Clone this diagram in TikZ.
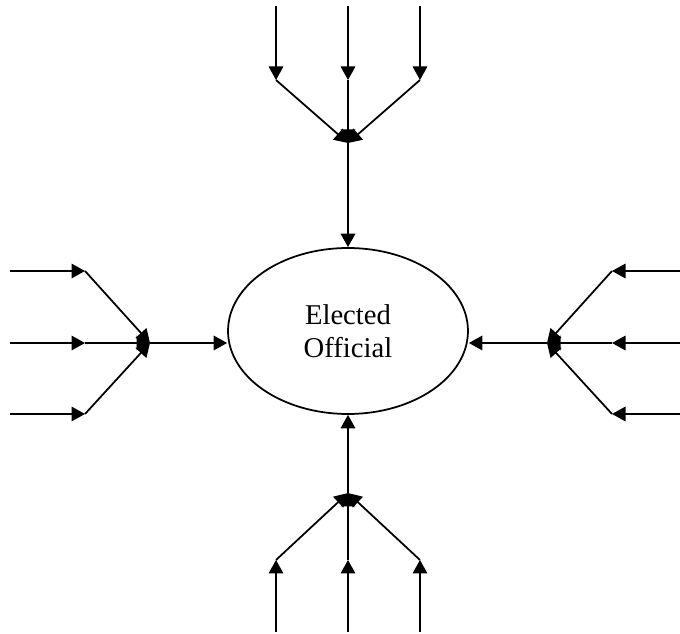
\documentclass[tikz,border=0pt]{standalone}
\usepackage{fontspec}
\setmainfont{Liberation Serif}
\usetikzlibrary{arrows.meta,shapes.geometric}

\begin{document}
\begin{tikzpicture}[x=0.02cm, y=-0.02cm, line width=1pt,
    feed/.style={-{Triangle[length=0.27cm,width=0.29cm]}},
    official/.style={ellipse, draw, inner sep=0pt, minimum width=4.8cm, minimum height=3.32cm,
      align=center, font=\fontsize{16.3}{18.5}\selectfont}]
  \useasboundingbox (0,0) rectangle (680,634);
  \node[official] (off) at (348,331) {Elected\\Official};
  \coordinate (topjoin) at (348,143);
  \coordinate (botjoin) at (348,493);
  \coordinate (leftjoin) at (150,343);
  \coordinate (rightjoin) at (547,343);
  \foreach \x [count=\i] in {276,348,420} {
    \coordinate (top\i) at (\x,6);
    \coordinate (topend\i) at (\x,80);
    \coordinate (bot\i) at (\x,632);
    \coordinate (botend\i) at (\x,560);
    \draw[feed] (top\i) -- (topend\i);
    \draw[feed] (topend\i) -- (topjoin);
    \draw[feed] (bot\i) -- (botend\i);
    \draw[feed] (botend\i) -- (botjoin);
  }
  \foreach \y [count=\i] in {271,343,414} {
    \coordinate (left\i) at (10,\y);
    \coordinate (leftend\i) at (85,\y);
    \coordinate (right\i) at (680,\y);
    \coordinate (rightend\i) at (612,\y);
    \draw[feed] (left\i) -- (leftend\i);
    \draw[feed] (leftend\i) -- (leftjoin);
    \draw[feed] (right\i) -- (rightend\i);
    \draw[feed] (rightend\i) -- (rightjoin);
  }
  \draw[feed] (topjoin) -- (off.north);
  \draw[feed] (botjoin) -- (off.south);
  \draw[feed] (leftjoin) -- (off.west |- leftjoin);
  \draw[feed] (rightjoin) -- (off.east |- rightjoin);
\end{tikzpicture}
\end{document}
